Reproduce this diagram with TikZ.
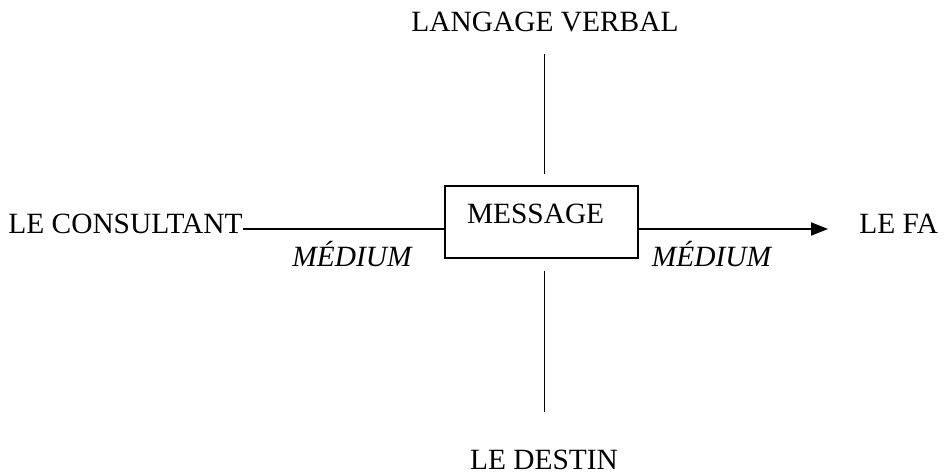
\documentclass[tikz,border=0pt]{standalone}
\usepackage{fontspec}
\setmainfont{Liberation Serif}
\usepackage{tikz}
\usetikzlibrary{arrows.meta, positioning}

\begin{document}
\begin{tikzpicture}[x=0.5pt, y=-0.5pt, font=\fontsize{14.7}{17}\selectfont,
  word/.style={inner sep=0pt, anchor=base},
  thick line/.style={line width=1pt},
  thin line/.style={line width=0.5pt}]
  \useasboundingbox (0,0) rectangle (944,475);
  \node[word] (Verbal) at (545,32) {LANGAGE VERBAL};
  \node[word, anchor=base west] (Consult) at (8,234) {LE CONSULTANT};
  \node[word, anchor=base west] (Fa) at (859,234) {LE FA};
  \node[word] (Destin) at (544,470) {LE DESTIN};
  \node[draw, line width=0.7pt, anchor=base, inner xsep=11pt, inner ysep=0pt,
    text width=74.5pt, align=left, text height=19pt, text depth=17pt] (Msg) at (541.5,224) {MESSAGE};
  \node[word, font=\fontsize{14.7}{17}\selectfont\itshape] (MedL) at (352,267) {MÉDIUM};
  \node[word, font=\fontsize{14.7}{17}\selectfont\itshape] (MedR) at (711.5,267) {MÉDIUM};
  \coordinate (Mid) at (0,229);
  \draw[thick line] (Consult.east |- Mid) -- (Msg.west |- Mid);
  \draw[thick line, -{Triangle[length=8.5pt, width=6.5pt]}, shorten >=15.5pt] (Msg.east |- Mid) -- (Fa.west |- Mid);
  \draw[thin line, shorten <=10.5pt, shorten >=5.5pt] (Verbal.south -| 544,0) -- (Msg.north -| 544,0);
  \draw[thin line, shorten <=6pt, shorten >=19pt] (Msg.south -| 544,0) -- (Destin.north -| 544,0);
\end{tikzpicture}
\end{document}
